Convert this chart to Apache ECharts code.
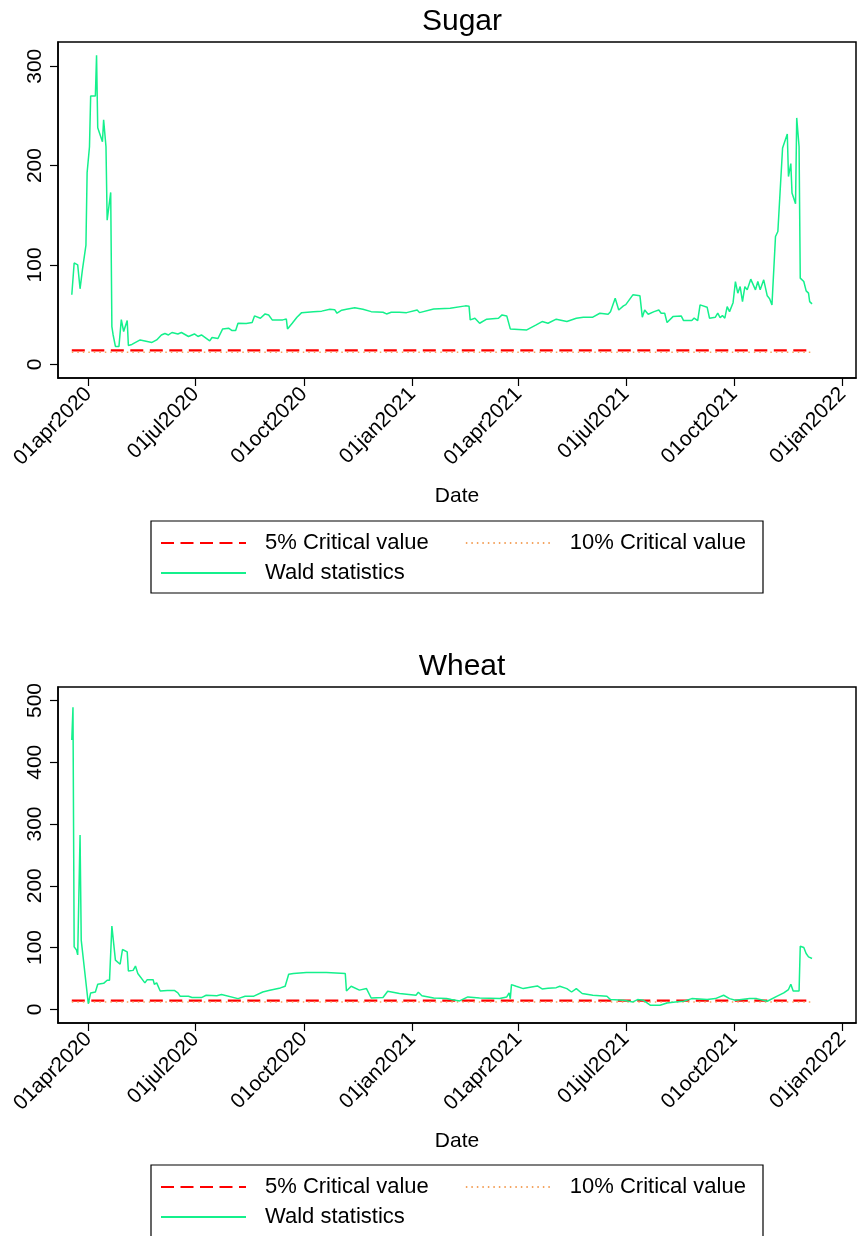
<!DOCTYPE html>
<html>
<head>
<meta charset="utf-8">
<title>Sugar / Wheat - Wald statistics</title>
<script src="https://cdn.jsdelivr.net/npm/echarts@6.0.0/dist/echarts.min.js"></script>
<style>
  html, body { margin: 0; padding: 0; background: #fff; }
  #main { width: 857px; height: 1236px; }
</style>
</head>
<body>
<div id="main"></div>
<script>
// 数据: 从图上读出来的 (sugar / wheat 两个面板)
const sugarDates = [
  '2020-03-18','2020-03-20','2020-03-23','2020-03-25','2020-03-27','2020-03-30','2020-03-31',
  '2020-04-02','2020-04-03','2020-04-07','2020-04-08','2020-04-09','2020-04-13','2020-04-14','2020-04-16','2020-04-17','2020-04-20','2020-04-21','2020-04-22','2020-04-24','2020-04-27','2020-04-29',
  '2020-05-01','2020-05-04','2020-05-05','2020-05-08','2020-05-15','2020-05-25','2020-05-29',
  '2020-06-02','2020-06-05','2020-06-08','2020-06-11','2020-06-16','2020-06-19','2020-06-25','2020-06-30',
  '2020-07-03','2020-07-06','2020-07-13','2020-07-15','2020-07-20','2020-07-24','2020-07-29',
  '2020-08-01','2020-08-04','2020-08-06','2020-08-13','2020-08-18','2020-08-20','2020-08-25','2020-08-29',
  '2020-09-01','2020-09-04','2020-09-13','2020-09-16','2020-09-17','2020-09-21','2020-09-25','2020-09-29',
  '2020-10-09','2020-10-16','2020-10-23','2020-10-27','2020-10-29',
  '2020-11-02','2020-11-06','2020-11-13','2020-11-20','2020-11-27',
  '2020-12-07','2020-12-10','2020-12-14','2020-12-21','2020-12-27',
  '2021-01-05','2021-01-07','2021-01-19',
  '2021-02-02','2021-02-15','2021-02-18','2021-02-19','2021-02-23','2021-02-27',
  '2021-03-05','2021-03-15','2021-03-18','2021-03-22','2021-03-25',
  '2021-04-08','2021-04-16','2021-04-21','2021-04-26',
  '2021-05-03','2021-05-12','2021-05-20','2021-05-26',
  '2021-06-03','2021-06-09','2021-06-16','2021-06-18','2021-06-22','2021-06-25','2021-06-29',
  '2021-07-01','2021-07-07','2021-07-13','2021-07-15','2021-07-17','2021-07-20','2021-07-25','2021-07-29','2021-07-31',
  '2021-08-03','2021-08-05','2021-08-10','2021-08-17','2021-08-19','2021-08-26','2021-08-28','2021-08-31',
  '2021-09-02','2021-09-08','2021-09-10','2021-09-15','2021-09-17','2021-09-19','2021-09-21','2021-09-23','2021-09-25','2021-09-27','2021-09-30',
  '2021-10-02','2021-10-04','2021-10-06','2021-10-08','2021-10-10','2021-10-12','2021-10-15','2021-10-19','2021-10-21','2021-10-23','2021-10-26','2021-10-29','2021-10-31',
  '2021-11-02','2021-11-05','2021-11-07','2021-11-11','2021-11-15','2021-11-16','2021-11-18','2021-11-19','2021-11-22','2021-11-23','2021-11-25','2021-11-26','2021-11-29',
  '2021-12-01','2021-12-03','2021-12-04','2021-12-06'
];
const sugarWald = [
  70, 102, 100, 76, 95, 120, 193,
  219, 270, 270, 311, 238, 224, 246, 219, 145, 173, 38, 30, 18, 18, 45,
  33, 44, 19, 20, 24.5, 22, 24.5,
  29.5, 31, 29.5, 32, 30.5, 32, 28, 30.5,
  28, 29.5, 23.5, 27, 26, 35.6, 36.3,
  34, 34, 41.3, 41, 42, 48.7, 46.4, 50.7,
  49.6, 44.7, 44.7, 45.5, 35.6, 41.3, 47.4, 52,
  53, 53.5, 55.4, 55, 51.4,
  54.5, 55.4, 56.8, 55.4, 53,
  52.4, 50.7, 52.4, 52.4, 52,
  54.7, 52, 55.7,
  56.4, 58.8, 58.5, 44.7, 46.4, 41.3,
  45.4, 46.4, 49.7, 48.7, 35.6,
  34.6, 39.6, 43, 41.3,
  45.4, 43, 46.4, 47.4,
  47.4, 51.4, 50.4, 53, 66.5, 54.7, 58.8,
  60, 69.9, 68.9, 47.4, 54.7, 50.4, 53, 54.7, 51.4,
  51.4, 42, 48, 48.7, 44, 44, 46.5, 44,
  59.8, 57.5, 46.4, 47.4, 51.4, 47, 49, 46.4, 58, 53, 62,
  83.3, 71.6, 78.2, 63.1, 78.2, 74.9, 85.7, 74.9, 83.3, 75, 85, 68.9, 66,
  59.8, 128.6, 133.7, 217.7, 231.9, 189, 202, 172.4, 161.6, 248, 219, 86.7, 83.3,
  73.9, 71.6, 63.1, 60.8
];

const wheatDates = [
  '2020-03-18','2020-03-19','2020-03-20','2020-03-22','2020-03-23','2020-03-25','2020-03-26',
  '2020-04-01','2020-04-03','2020-04-07','2020-04-09','2020-04-14','2020-04-17','2020-04-19','2020-04-21','2020-04-24','2020-04-28','2020-04-30',
  '2020-05-01','2020-05-04','2020-05-05','2020-05-09','2020-05-11','2020-05-13','2020-05-19','2020-05-21','2020-05-26','2020-05-27','2020-05-29',
  '2020-06-01','2020-06-07','2020-06-13','2020-06-16','2020-06-18','2020-06-25','2020-06-28',
  '2020-07-06','2020-07-10','2020-07-19','2020-07-23',
  '2020-08-06','2020-08-12','2020-08-19','2020-08-27',
  '2020-09-02','2020-09-11','2020-09-15','2020-09-18','2020-09-22',
  '2020-10-03','2020-10-20',
  '2020-11-05','2020-11-06','2020-11-10','2020-11-17','2020-11-23','2020-11-27',
  '2020-12-07','2020-12-11','2020-12-21',
  '2021-01-04','2021-01-06','2021-01-09','2021-01-19','2021-01-30',
  '2021-02-03','2021-02-10','2021-02-17','2021-02-27',
  '2021-03-16','2021-03-22','2021-03-24','2021-03-25','2021-03-26','2021-03-30',
  '2021-04-05','2021-04-12','2021-04-17','2021-04-21','2021-04-26',
  '2021-05-03','2021-05-06','2021-05-12','2021-05-16','2021-05-20','2021-05-25',
  '2021-06-03','2021-06-15','2021-06-18','2021-06-29',
  '2021-07-07','2021-07-11','2021-07-16','2021-07-22','2021-07-30',
  '2021-08-05','2021-08-12','2021-08-19','2021-08-26',
  '2021-09-08','2021-09-15','2021-09-22','2021-09-27',
  '2021-10-02','2021-10-14','2021-10-20','2021-10-29',
  '2021-11-06','2021-11-12','2021-11-16','2021-11-18','2021-11-20','2021-11-25','2021-11-26','2021-11-29',
  '2021-12-01','2021-12-03','2021-12-06'
];
const wheatWald = [
  436, 489, 101, 96, 88, 282, 112,
  9, 26.5, 28, 40.5, 42, 47, 47, 134.6, 79.5, 73, 96.8,
  98.4, 93, 62, 63, 70, 58, 42.7, 48, 48, 40.5, 42.7,
  29.7, 30.5, 30.5, 26.5, 21, 21, 19,
  19, 22.7, 22, 24,
  17.3, 21, 21, 28,
  30.8, 34.6, 37.3, 56.8, 58,
  59.5, 59.5,
  58, 29.7, 37.3, 31, 33.5, 18.3,
  19, 29.2, 25.5,
  22.7, 27.5, 22, 18.3, 17.3,
  15.7, 13.5, 20, 18.3,
  17.3, 20, 26.5, 17, 40, 37.3,
  33.5, 36.2, 37.8, 33, 34,
  35, 37.3, 33.5, 28, 33.5, 25.5,
  22.7, 21, 15.7, 14.6,
  11.9, 15.7, 14.6, 6.5, 6.5,
  10.2, 11.9, 13, 17.3,
  15.7, 17.3, 22.7, 17.3,
  14.6, 17.3, 17.3, 13,
  21, 26.5, 32, 40.5, 29.7, 29.7, 102, 100,
  90.3, 84.8, 82.2
];

// critical values (horizontal lines)
const crit5 = 14.0;
const crit10 = 12.0;

// tick labels
const xTickDates = ['2020-04-01','2020-07-01','2020-10-01','2021-01-01','2021-04-01','2021-07-01','2021-10-01','2022-01-01'];
const sugarYTicks = [0, 100, 200, 300];
const wheatYTicks = [0, 100, 200, 300, 400, 500];
const panelTitles = ['Sugar', 'Wheat'];
const seriesNames = ['5% Critical value', '10% Critical value', 'Wald statistics'];

const FONT = '"Liberation Sans", Arial, Helvetica, sans-serif';
const monthAbbr = ['jan','feb','mar','apr','may','jun','jul','aug','sep','oct','nov','dec'];

function toTime(s) {
  let p = s.split(/[- :]/).map(Number);
  return new Date(p[0], p[1] - 1, p[2], p[3] || 0, p[4] || 0).getTime();
}
function stataDate(v) {
  let d = new Date(v);
  let dd = d.getDate();
  return (dd < 10 ? '0' + dd : '' + dd) + monthAbbr[d.getMonth()] + d.getFullYear();
}

let xMin = toTime('2020-03-06 07:00');
let xMax = toTime('2022-01-12 07:00');
let xTicks = xTickDates.map(toTime);

let chart = echarts.init(document.getElementById('main'));

let grids = [
  {left: 58, top: 42, width: 798, height: 336},
  {left: 58, top: 687, width: 798, height: 336}
];
let yRanges = [[-13.8, 324.4], [-22.2, 521.8]];
let yTicks = [sugarYTicks, wheatYTicks];
let panels = [
  {dates: sugarDates, wald: sugarWald},
  {dates: wheatDates, wald: wheatWald}
];

let option = {
  backgroundColor: '#fff',
  animation: false,
  title: [],
  grid: [],
  xAxis: [],
  yAxis: [],
  legend: [],
  series: [],
  graphic: []
};

grids.forEach((g, i) => {
  option.title.push({
    text: panelTitles[i],
    left: 457,
    top: i == 0 ? 2 : 647,
    textAlign: 'center',
    textStyle: {fontSize: 30, fontWeight: 'normal', color: '#000', fontFamily: FONT}
  });
  option.grid.push({
    left: g.left, top: g.top, width: g.width, height: g.height,
    show: true, borderColor: '#000', borderWidth: 1.5, backgroundColor: '#fff'
  });
  // x轴用数值轴(时间戳), 刻度放在每季度第一天
  option.xAxis.push({
    type: 'value',
    gridIndex: i,
    min: xMin,
    max: xMax,
    name: 'Date',
    nameLocation: 'middle',
    nameGap: 108,
    nameTextStyle: {fontSize: 21, color: '#000', fontFamily: FONT},
    axisLine: {onZero: false, lineStyle: {color: '#000', width: 1.5}},
    axisTick: {show: true, length: 8, lineStyle: {color: '#000', width: 1.2}, customValues: xTicks},
    axisLabel: {
      customValues: xTicks,
      rotate: 45,
      margin: 13,
      fontSize: 21,
      color: '#000',
      fontFamily: FONT,
      formatter: function (v) { return stataDate(v); }
    },
    splitLine: {show: false}
  });
  option.yAxis.push({
    type: 'value',
    gridIndex: i,
    min: yRanges[i][0],
    max: yRanges[i][1],
    axisLine: {show: true, onZero: false, lineStyle: {color: '#000', width: 1.5}},
    axisTick: {show: true, length: 8, lineStyle: {color: '#000', width: 1.2}, customValues: yTicks[i]},
    axisLabel: {
      customValues: yTicks[i],
      rotate: 90,
      margin: 12,
      fontSize: 21,
      color: '#000',
      fontFamily: FONT
    },
    splitLine: {show: false}
  });

  let p = panels[i];
  let first = toTime(p.dates[0]);
  let last = toTime(p.dates[p.dates.length - 1]);
  option.series.push({
    name: seriesNames[0],
    type: 'line',
    xAxisIndex: i, yAxisIndex: i,
    symbol: 'none',
    silent: true,
    lineStyle: {color: '#ff0000', width: 2.2, type: [13, 6.5]},
    itemStyle: {color: '#ff0000'},
    data: [[first, crit5], [last, crit5]]
  });
  option.series.push({
    name: seriesNames[1],
    type: 'line',
    xAxisIndex: i, yAxisIndex: i,
    symbol: 'none',
    silent: true,
    lineStyle: {color: '#f4a460', width: 1.5, type: [1.5, 4]},
    itemStyle: {color: '#f4a460'},
    data: [[first, crit10], [last, crit10]]
  });
  option.series.push({
    name: seriesNames[2],
    type: 'line',
    xAxisIndex: i, yAxisIndex: i,
    symbol: 'none',
    silent: true,
    lineStyle: {color: '#14f08c', width: 1.5},
    itemStyle: {color: '#14f08c'},
    data: p.dates.map((d, k) => [toTime(d), p.wald[k]])
  });

  // 图例: 两行, 外面一个框
  let boxTop = i == 0 ? 521 : 1165;
  option.graphic.push({
    type: 'rect',
    shape: {x: 151, y: boxTop, width: 612, height: 72},
    style: {fill: 'none', stroke: '#000', lineWidth: 1.2},
    silent: true
  });
  let legendBase = {
    left: 160,
    padding: 0,
    itemWidth: 85,
    itemHeight: 14,
    itemGap: 36,
    selectedMode: false,
    itemStyle: {opacity: 0},
    textStyle: {fontSize: 22, color: '#000', fontFamily: FONT, padding: [0, 0, 0, 14]}
  };
  option.legend.push(Object.assign({}, legendBase, {top: boxTop + 11, data: [seriesNames[0], seriesNames[1]]}));
  option.legend.push(Object.assign({}, legendBase, {top: boxTop + 41, data: [seriesNames[2]]}));
});

chart.setOption(option);
window.onresize = function () {
  chart.resize();
};
</script>
</body>
</html>
